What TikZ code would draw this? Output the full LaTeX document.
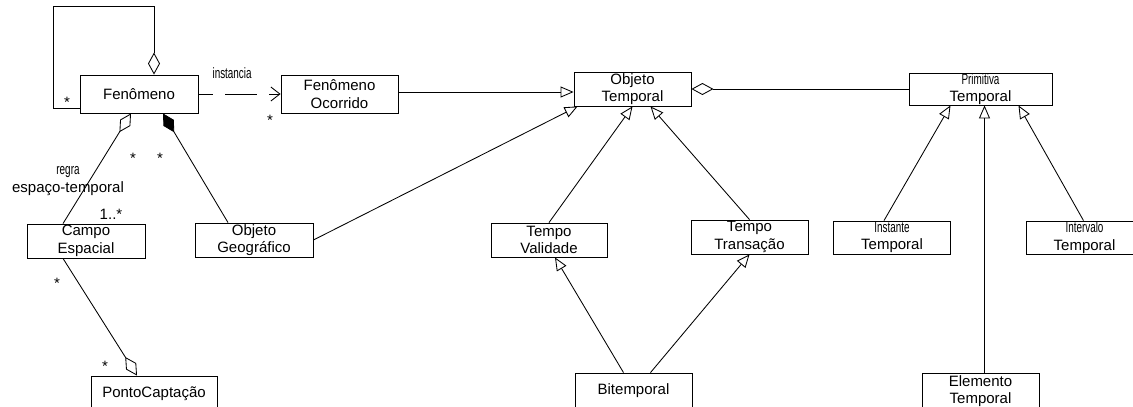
\documentclass[tikz,border=0pt]{standalone}
\usepackage{fontspec}
\setmainfont{Liberation Sans}
\usetikzlibrary{arrows.meta}

\newcommand{\apertado}[1]{\scalebox{0.66}[1]{#1}}

\begin{document}
\begin{tikzpicture}[x=1pt,y=-1pt,line width=0.85pt,font=\fontsize{15}{17.5}\selectfont]

\tikzstyle{classe}=[draw,rectangle,minimum width=117pt,minimum height=34pt,inner sep=0pt,align=center]
\tikzstyle{heranca}=[-{Triangle[open,length=13pt,width=11pt]}]
\tikzstyle{agrega}=[{Diamond[open,length=22pt,width=12pt]}-]
\tikzstyle{compoe}=[{Diamond[length=22pt,width=12pt]}-]
\tikzstyle{dependencia}=[-{Straight Barb[length=9pt,width=14pt]},dash pattern=on 32pt off 12pt,dash phase=17pt]
\tikzstyle{mult}=[inner sep=0pt]

\useasboundingbox (0,0) rectangle (1133,407);
\clip (0,0) rectangle (1133,407);

% classes
\node[classe,minimum width=118pt,minimum height=38pt](fen) at (139,94) {Fenômeno};
\node[classe,minimum height=38pt](oco) at (339.5,94) {Fenômeno\\Ocorrido};
\node[classe](objt) at (632.5,89) {Objeto\\Temporal};
\node[classe,minimum width=143pt,minimum height=32pt](prim) at (980.5,89) {\apertado{Primitiva}\\Temporal};

\node[classe,minimum width=118pt](campo) at (86,241) {Campo\\Espacial};
\node[classe,minimum width=118pt](geo) at (254,240) {Objeto\\Geográfico};
\node[classe,minimum width=126pt,minimum height=36pt](ponto) at (154,394) {PontoCaptação};

\node[classe,minimum width=116pt](tval) at (549,240) {Tempo\\Validade};
\node[classe](ttra) at (749.5,237) {Tempo\\Transação};
\node[classe,minimum height=36pt](bit) at (633.5,391) {Bitemporal};

\node[classe,minimum height=33pt](inst) at (892,237.5) {\apertado{Instante}\\Temporal};
\node[classe,minimum height=33pt](interv) at (1084.5,237.5) {\apertado{Intervalo}\\Temporal};
\node[classe,minimum height=36pt](elem) at (980.5,391) {Elemento\\Temporal};

% auto-relacionamento
\draw[agrega]([xshift=15pt]fen.north) -- ++(0,-68) -- ++(-101,0) |- ([yshift=-14pt]fen.west);
\node[mult](m1) at (67,102) {*};

% instancia
\draw[dependencia](fen.east) -- node[pos=0.41,above=12pt]{\apertado{instancia}} (oco.west);
\node[mult](m2) at (270,120) {*};

% heranca
\draw[heranca]([yshift=2pt]oco.east) -- ([yshift=2pt]oco.east -| objt.west);
\draw[heranca](geo.east) -- ([xshift=4pt]objt.south west);
\draw[heranca](tval.north) -- (objt.south);
\draw[heranca](ttra.north) -- ([xshift=18pt]objt.south);
\draw[heranca]([xshift=-10pt]bit.north) -- ([xshift=6pt]tval.south);
\draw[heranca]([xshift=17pt]bit.north) -- (ttra.south);
\draw[heranca]([xshift=-8pt]inst.north) -- ([xshift=-30pt]prim.south);
\draw[heranca]([xshift=4pt]elem.north) -- ([xshift=4pt]prim.south);
\draw[heranca]([xshift=-1pt]interv.north) -- ([xshift=38pt]prim.south);

% agregacao e composicao
\draw[agrega](objt.east) -- (objt.east -| prim.west);
\draw[agrega]([xshift=-8pt]fen.south) -- ([xshift=-23pt]campo.north);
\draw[compoe]([xshift=24pt]fen.south) -- ([xshift=-26pt]geo.north);
\draw[agrega]([xshift=-17pt]ponto.north) -- ([xshift=-23pt]campo.south);

\node[mult](m3) at (133,158) {*};
\node[mult](m4) at (160,158) {*};
\node[align=center,inner sep=0pt](regra) at (68,181) {\apertado{regra}\\espaço-temporal};
\node[mult](m5) at (111,214) {1..*};
\node[mult](m6) at (57,283) {*};
\node[mult](m7) at (105,366) {*};

\end{tikzpicture}
\end{document}
